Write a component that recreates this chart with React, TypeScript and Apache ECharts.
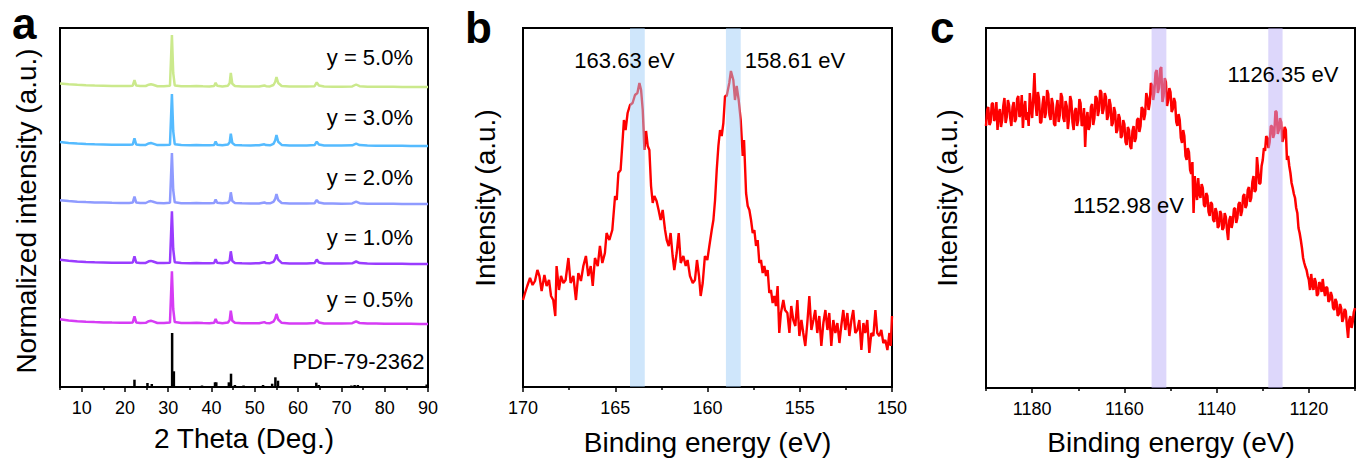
import React, { useEffect, useRef } from 'react';
import * as echarts from 'echarts';

const FONT = '"Liberation Sans", Arial, Helvetica, sans-serif';

// ---------------- Panel a: XRD ----------------
const twoTheta = [5, 7, 9, 11, 13, 15, 17, 19, 21, 21.8, 22.2, 22.6, 23.5, 24.8, 25.5, 26.0, 26.5, 27.5, 29, 30.4, 30.85, 31.15, 31.5, 33, 35, 36.5, 38, 39.5, 40.6, 40.95, 41.3, 42.5, 43.8, 44.2, 44.45, 44.8, 45.4, 47, 49, 51, 52.2, 52.6, 53.5, 54.3, 54.7, 55.0, 55.4, 56.2, 58, 60, 62, 63.8, 64.3, 64.8, 66, 68, 70, 72.5, 73.4, 74.2, 76, 78, 80, 82, 84, 86, 88, 90];

const xrd05 = [4.7, 3.5, 2.8, 2.3, 1.9, 1.6, 1.4, 1.3, 1.3, 1.6, 7.7, 1.6, 1.1, 1.2, 2.8, 3.2, 2.6, 1.0, 0.9, 1.4, 52.7, 15, 1.9, 1.0, 0.9, 1.2, 0.9, 0.8, 1.2, 5.0, 1.4, 0.8, 1.5, 4.2, 13.4, 3.3, 1.2, 0.8, 0.7, 0.7, 1.9, 1.0, 0.8, 2.4, 5.5, 10, 4.5, 1.2, 0.6, 0.5, 0.5, 0.9, 4.0, 1.6, 0.6, 0.5, 0.4, 0.8, 2.6, 1.0, 0.5, 0.4, 0.3, 0.3, 0.2, 0.2, 0.1, 0.0];
const xrd10 = [4.2, 3.2, 2.5, 2.0, 1.7, 1.5, 1.3, 1.2, 1.2, 1.5, 7.6, 1.5, 1.0, 1.1, 2.7, 3.1, 2.5, 1.0, 0.9, 1.3, 52.6, 15, 1.8, 0.9, 0.8, 1.1, 0.8, 0.7, 1.1, 4.8, 1.3, 0.7, 1.4, 3.9, 12.7, 3.1, 1.1, 0.7, 0.6, 0.7, 1.8, 0.9, 0.8, 2.2, 5.2, 9.5, 4.3, 1.1, 0.5, 0.5, 0.4, 0.9, 4.4, 1.5, 0.6, 0.4, 0.4, 0.7, 2.5, 0.9, 0.4, 0.3, 0.3, 0.2, 0.2, 0.1, 0.1, 0.0];
const xrd20 = [3.7, 2.9, 2.3, 1.9, 1.6, 1.4, 1.2, 1.1, 1.1, 1.4, 7.4, 1.4, 1.0, 1.0, 2.5, 2.9, 2.3, 0.9, 0.8, 1.2, 51, 14, 1.7, 0.8, 0.8, 1.0, 0.8, 0.7, 1.0, 4.4, 1.2, 0.7, 1.3, 3.6, 11.7, 2.9, 1.0, 0.7, 0.6, 0.6, 1.6, 0.8, 0.7, 2.1, 5.0, 10, 4.0, 1.0, 0.5, 0.4, 0.4, 0.8, 4.0, 1.4, 0.5, 0.4, 0.3, 0.6, 2.3, 0.8, 0.3, 0.3, 0.2, 0.2, 0.1, 0.1, 0.0, 0.0];
const xrd30 = [4.0, 3.0, 2.4, 2.0, 1.7, 1.5, 1.3, 1.2, 1.2, 1.5, 7.7, 1.5, 1.0, 1.1, 2.6, 3.0, 2.4, 0.9, 0.9, 1.3, 52, 15, 1.8, 0.9, 0.8, 1.1, 0.8, 0.7, 1.1, 4.6, 1.3, 0.7, 1.4, 3.8, 12.3, 3.0, 1.1, 0.7, 0.6, 0.7, 1.7, 0.9, 0.7, 2.2, 5.5, 11, 4.2, 1.1, 0.5, 0.5, 0.5, 0.9, 4.2, 1.5, 0.6, 0.4, 0.4, 0.7, 2.4, 0.9, 0.4, 0.3, 0.3, 0.2, 0.2, 0.1, 0.1, 0.0];
const xrd50 = [3.5, 2.8, 2.2, 1.8, 1.5, 1.3, 1.1, 1.0, 1.0, 1.3, 6.8, 1.4, 0.9, 1.0, 2.3, 2.8, 2.2, 0.8, 0.8, 1.2, 52, 14, 1.6, 0.8, 0.7, 1.0, 0.7, 0.6, 1.0, 4.2, 1.2, 0.6, 1.3, 4.0, 14, 3.2, 1.0, 0.6, 0.5, 0.6, 1.6, 0.8, 0.6, 2.0, 5.0, 10, 4.0, 1.0, 0.4, 0.4, 0.4, 0.8, 4.5, 1.5, 0.5, 0.3, 0.3, 0.6, 2.5, 0.8, 0.3, 0.2, 0.2, 0.2, 0.1, 0.1, 0.0, 0.0];

const xrdSeriesValues = [xrd05, xrd10, xrd20, xrd30, xrd50];
const xrdLabels = ['y = 0.5%', 'y = 1.0%', 'y = 2.0%', 'y = 3.0%', 'y = 5.0%'];
const xrdColors = ['#d63cf5', '#9a3cff', '#8f9bff', '#55bbff', '#cbe98c'];
const xrdOffsets = [63, 123, 183, 241, 300];

const pdfAngles = [22.2, 25.2, 26.2, 30.9, 31.3, 37.8, 40.8, 41.1, 44.0, 44.5, 45.4, 47.4, 51.9, 54.0, 54.75, 55.35, 64.2, 64.75, 72.3, 73.05, 73.8, 89.7];
const pdfIntensities = [7.3, 4, 3, 54, 15.7, 1.5, 4.7, 4.7, 4.7, 13.3, 2, 1.5, 2, 3.3, 9.7, 6.3, 4.3, 2, 1.5, 2, 2, 2.5];
const pdfLabel = 'PDF-79-2362';

const aMajorTicks = [10, 20, 30, 40, 50, 60, 70, 80, 90];
const aMinorTicks = [5, 15, 25, 35, 45, 55, 65, 75, 85];

// ---------------- Panel b: XPS ----------------
const bEnergy = [170.00, 169.89, 169.77, 169.62, 169.48, 169.35, 169.22, 169.11, 168.99, 168.84, 168.72, 168.59, 168.48, 168.36, 168.25, 168.18, 168.05, 167.94, 167.81, 167.69, 167.54, 167.42, 167.27, 167.13, 167.00, 166.86, 166.73, 166.59, 166.46, 166.33, 166.22, 166.10, 165.95, 165.83, 165.70, 165.56, 165.47, 165.32, 165.16, 165.01, 164.92, 164.83, 164.71, 164.60, 164.53, 164.44, 164.33, 164.20, 164.06, 163.93, 163.80, 163.69, 163.60, 163.51, 163.42, 163.33, 163.24, 163.15, 163.06, 162.97, 162.88, 162.76, 162.65, 162.54, 162.43, 162.30, 162.21, 162.10, 162.00, 161.89, 161.80, 161.67, 161.56, 161.45, 161.31, 161.18, 161.08, 160.95, 160.80, 160.68, 160.57, 160.46, 160.37, 160.26, 160.14, 160.01, 159.90, 159.77, 159.68, 159.59, 159.50, 159.41, 159.32, 159.23, 159.14, 159.05, 158.96, 158.82, 158.73, 158.60, 158.51, 158.42, 158.31, 158.20, 158.09, 158.02, 157.91, 157.82, 157.73, 157.64, 157.55, 157.46, 157.37, 157.28, 157.19, 157.10, 157.01, 156.92, 156.83, 156.74, 156.65, 156.56, 156.47, 156.38, 156.29, 156.20, 156.11, 156.02, 155.89, 155.80, 155.67, 155.56, 155.46, 155.35, 155.24, 155.13, 155.02, 154.91, 154.81, 154.70, 154.59, 154.48, 154.37, 154.26, 154.16, 154.05, 153.94, 153.83, 153.72, 153.61, 153.50, 153.40, 153.29, 153.18, 153.07, 152.96, 152.85, 152.75, 152.64, 152.53, 152.42, 152.31, 152.20, 152.10, 151.99, 151.88, 151.77, 151.66, 151.55, 151.45, 151.34, 151.23, 151.12, 151.01, 150.90, 150.80, 150.69, 150.58, 150.47, 150.36, 150.25, 150.14, 150.07, 150.00];
const bIntensity = [87, 94, 101, 109, 102, 106, 117, 111, 96, 112, 101, 107, 91, 87, 71, 121, 97, 111, 104, 107, 129, 104, 111, 87, 114, 106, 121, 131, 111, 121, 101, 129, 121, 141, 124, 134, 154, 147, 157, 191, 187, 214, 217, 247, 267, 257, 274, 282, 284, 292, 294, 304, 297, 277, 237, 256, 241, 237, 201, 184, 191, 186, 177, 167, 177, 157, 147, 141, 154, 131, 117, 134, 154, 124, 131, 121, 127, 111, 104, 107, 127, 111, 91, 104, 131, 127, 141, 157, 167, 187, 217, 241, 257, 251, 264, 291, 291, 304, 316, 307, 287, 301, 287, 267, 231, 247, 194, 181, 177, 167, 154, 157, 141, 147, 124, 127, 114, 121, 111, 117, 94, 97, 84, 91, 81, 101, 54, 74, 87, 77, 74, 54, 81, 67, 61, 87, 51, 67, 54, 41, 64, 91, 57, 67, 77, 54, 71, 41, 64, 77, 57, 74, 41, 67, 54, 64, 44, 61, 77, 57, 74, 51, 67, 77, 54, 57, 67, 37, 64, 54, 67, 34, 54, 51, 77, 54, 51, 57, 44, 47, 37, 54, 41, 71];
const bPeakLabels = ['163.63 eV', '158.61 eV'];
const bBands = [[164.2, 163.4], [159.0, 158.2]];
const bMajorTicks = [150, 155, 160, 165, 170];
const bMinorTicks = [152.5, 157.5, 162.5, 167.5];

// ---------------- Panel c: XPS ----------------
const cStartEnergy = 1190;
const cEnergyStep = 0.25;
const cIntensity = [
  262, 278, 281, 263, 266, 284, 285, 267, 270, 286, 258, 274, 279, 261, 268, 282, 290, 265, 271, 288,
  283, 270, 262, 281, 286, 266, 269, 289, 292, 271, 274, 293, 260, 279, 287, 268, 276, 262, 295, 280,
  270, 290, 315, 284, 272, 296, 289, 265, 266, 283, 292, 270, 275, 298, 294, 273, 268, 290, 284, 264,
  262, 280, 288, 266, 273, 295, 291, 270, 266, 287, 282, 259, 270, 292, 287, 266, 258, 277, 280, 262,
  268, 289, 285, 262, 264, 280, 241, 268, 276, 258, 262, 281, 284, 263, 270, 292, 290, 272, 278, 298,
  296, 274, 279, 295, 291, 268, 272, 289, 283, 262, 265, 281, 276, 255, 258, 274, 270, 250, 252, 268,
  264, 246, 243, 261, 258, 242, 239, 257, 262, 246, 250, 268, 270, 256, 262, 281, 279, 268, 274, 295,
  290, 278, 285, 305, 303, 288, 296, 315, 318, 295, 300, 319, 321, 286, 292, 310, 306, 282, 288, 300,
  296, 276, 279, 290, 286, 266, 262, 274, 268, 250, 245, 258, 252, 232, 228, 240, 236, 218, 214, 226,
  175, 212, 198, 188, 210, 194, 190, 204, 200, 183, 181, 195, 192, 176, 172, 186, 184, 168, 166, 180,
  176, 160, 162, 177, 174, 158, 160, 175, 171, 158, 148, 168, 172, 160, 166, 179, 180, 165, 170, 184,
  186, 172, 177, 192, 194, 180, 183, 198, 201, 186, 190, 206, 212, 196, 198, 231, 218, 204, 205, 222,
  228, 240, 237, 252, 250, 240, 246, 262, 262, 250, 254, 277, 276, 254, 258, 270, 266, 246, 250, 261,
  258, 228, 232, 222, 215, 205, 200, 194, 190, 180, 175, 160, 155, 148, 140, 130, 125, 121, 118, 112,
  108, 98, 114, 103, 98, 110, 106, 92, 94, 106, 104, 96, 109, 99, 92, 101, 100, 86, 88, 96,
  92, 80, 78, 89, 86, 72, 74, 84, 80, 66, 70, 79, 77, 62, 50, 68, 72, 60, 66, 76,
  80,
];
const cPeakLabels = ['1152.98 eV', '1126.35 eV'];
const cBands = [[1154.1, 1150.9], [1128.8, 1125.7]];
const cMajorTicks = [1120, 1140, 1160, 1180];
const cMinorTicks = [1110, 1130, 1150, 1170, 1190];

const panelLetters = ['a', 'b', 'c'];

function makeXAxes(gridIndex: number, min: number, max: number, inverse: boolean, major: number[], minor: number[]) {
  return [
    {
      type: 'value', gridIndex, min, max, inverse, position: 'bottom',
      axisLine: { show: true, onZero: false, lineStyle: { color: '#000', width: 2 } },
      axisTick: { show: true, customValues: major, length: 5, lineStyle: { color: '#000', width: 1.5 } },
      axisLabel: {
        show: true, customValues: major, margin: 12, color: '#000', fontSize: 18, fontFamily: FONT,
        formatter: (v: number) => String(v),
      },
      splitLine: { show: false },
    },
    {
      type: 'value', gridIndex, min, max, inverse, position: 'bottom',
      axisLine: { show: false, onZero: false },
      axisTick: { show: true, customValues: minor, length: 3, lineStyle: { color: '#000', width: 1.5 } },
      axisLabel: { show: false },
      splitLine: { show: false },
    },
  ];
}

function makeYAxis(gridIndex: number, max: number) {
  return {
    type: 'value', gridIndex, min: 0, max,
    axisLine: { show: true, onZero: false, lineStyle: { color: '#000', width: 2 } },
    axisTick: { show: false }, axisLabel: { show: false }, splitLine: { show: false },
  };
}

function bandSeries(xAxisIndex: number, yAxisIndex: number, bands: number[][], fill: string) {
  return {
    type: 'custom', xAxisIndex, yAxisIndex, z: 5, silent: true,
    encode: { x: [0, 1] },
    data: bands,
    renderItem: (params: any, api: any) => {
      const p1 = api.coord([api.value(0), 0]);
      const p2 = api.coord([api.value(1), 0]);
      const cs = params.coordSys;
      return {
        type: 'rect',
        shape: { x: Math.min(p1[0], p2[0]), y: cs.y, width: Math.abs(p2[0] - p1[0]), height: cs.height },
        style: { fill },
      };
    },
  };
}

function text(t: string, x: number, y: number, size: number, align: string = 'center', extra: any = {}, weight: string = 'normal') {
  return {
    type: 'text', x, y, z: 100, ...extra,
    style: {
      text: t, fill: '#000',
      font: `${weight} ${size}px ${FONT}`,
      align, verticalAlign: 'middle', textAlign: align, textVerticalAlign: 'middle',
    },
  };
}

export default function App() {
  const ref = useRef<HTMLDivElement>(null);
  useEffect(() => {
    if (!ref.current) return;
    const chart = echarts.init(ref.current, null, { renderer: 'svg' });

    const xrdLines = xrdSeriesValues.map((vals, k) => ({
      type: 'line', xAxisIndex: 0, yAxisIndex: 0, showSymbol: false, symbol: 'none',
      lineStyle: { color: xrdColors[k], width: 2.5 },
      data: twoTheta.map((t, i) => [t, xrdOffsets[k] + vals[i]]),
      z: 2,
    }));

    const cData = cIntensity.map((v, i) => [cStartEnergy - i * cEnergyStep, v]);

    const yLabelPositions = [299, 237.5, 177.5, 117.5, 57.5];

    const option: any = {
      animation: false,
      backgroundColor: '#fff',
      grid: [
        { left: 60, top: 28, width: 368, height: 359, show: true, borderColor: '#000', borderWidth: 2, backgroundColor: 'transparent' },
        { left: 523, top: 28, width: 369, height: 359, show: true, borderColor: '#000', borderWidth: 2, backgroundColor: 'transparent' },
        { left: 986, top: 28, width: 369, height: 360, show: true, borderColor: '#000', borderWidth: 2, backgroundColor: 'transparent' },
      ],
      xAxis: [
        ...makeXAxes(0, 5, 90, false, aMajorTicks, aMinorTicks),
        ...makeXAxes(1, 150, 170, true, bMajorTicks, bMinorTicks),
        ...makeXAxes(2, 1110, 1190, true, cMajorTicks, cMinorTicks),
      ],
      yAxis: [makeYAxis(0, 359), makeYAxis(1, 359), makeYAxis(2, 360)],
      series: [
        ...xrdLines,
        {
          type: 'bar', xAxisIndex: 0, yAxisIndex: 0, barWidth: 2.5,
          itemStyle: { color: '#000' },
          data: pdfAngles.map((t, i) => [t, pdfIntensities[i]]),
        },
        {
          type: 'line', xAxisIndex: 2, yAxisIndex: 1, showSymbol: false, symbol: 'none',
          lineStyle: { color: '#ff0000', width: 2.4 },
          data: bEnergy.map((e, i) => [e, bIntensity[i]]),
          z: 2,
        },
        bandSeries(2, 1, bBands, 'rgba(160,205,248,0.5)'),
        {
          type: 'line', xAxisIndex: 4, yAxisIndex: 2, showSymbol: false, symbol: 'none',
          lineStyle: { color: '#ff0000', width: 2.5 },
          data: cData,
          z: 2,
        },
        bandSeries(4, 2, cBands, 'rgba(188,176,247,0.5)'),
      ],
      graphic: [
        // panel letters
        text(panelLetters[0], 12, 23, 44, 'left', {}, 'bold'),
        text(panelLetters[1], 465, 27, 44, 'left', {}, 'bold'),
        text(panelLetters[2], 930, 27, 44, 'left', {}, 'bold'),
        // axis titles
        text('2 Theta (Deg.)', 244, 438, 28),
        text('Binding energy (eV)', 707.5, 442, 28),
        text('Binding energy (eV)', 1171, 442, 28),
        text('Normalized intensity (a.u.)', 26, 211, 28, 'center', { rotation: Math.PI / 2 }),
        text('Intensity (a.u.)', 485, 198, 28, 'center', { rotation: Math.PI / 2 }),
        text('Intensity (a.u.)', 947.5, 198, 28, 'center', { rotation: Math.PI / 2 }),
        // XRD labels
        ...xrdLabels.map((l, k) => text(l, 413, yLabelPositions[k], 22, 'right')),
        text(pdfLabel, 424.5, 361.7, 22, 'right'),
        // XPS peak labels
        text(bPeakLabels[0], 624.5, 60, 22),
        text(bPeakLabels[1], 795, 60, 22),
        text(cPeakLabels[0], 1128.5, 205.5, 22),
        text(cPeakLabels[1], 1283, 74, 22),
      ],
    };
    chart.setOption(option);
    return () => chart.dispose();
  }, []);
  return <div ref={ref} style={{ position: 'absolute', left: 0, top: 0, width: 1360, height: 459, background: '#fff' }} />;
}
